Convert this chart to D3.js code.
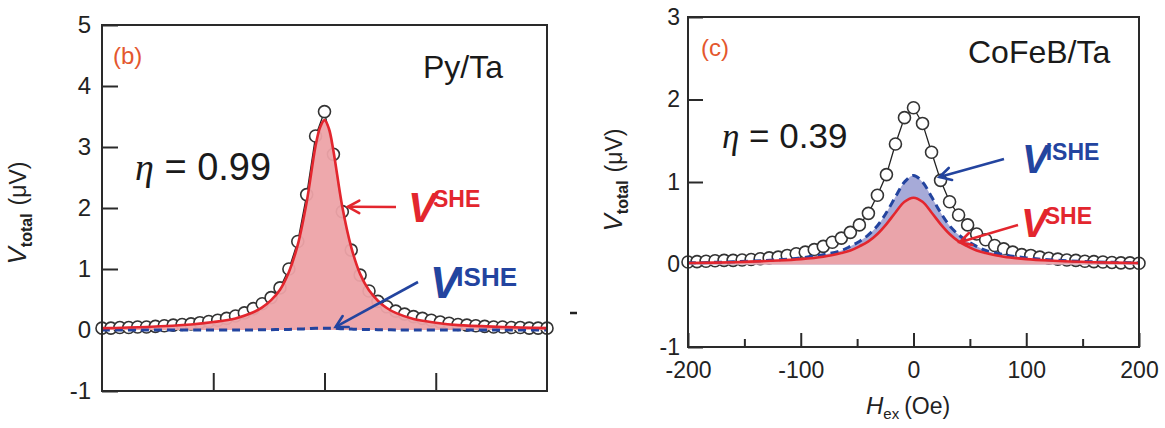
<!DOCTYPE html>
<html>
<head>
<meta charset="utf-8">
<script src="https://cdn.jsdelivr.net/npm/d3@7"></script>
<style>
  body { margin: 0; background: #fff; }
  svg { display: block; }
  text { font-family: "Liberation Sans", Arial, sans-serif; }
</style>
</head>
<body>
<svg id="chart" width="1165" height="428"></svg>
<script>
// Field sweep (Oe) for the measured points
const fieldOe = [-200,-192,-184,-176,-168,-160,-152,-144,-136,-128,-120,-112,-104,-96,-88,-80,-72,-64,-56,-48,-40,-32,-24,-16,-8,
                 0,8,16,24,32,40,48,56,64,72,80,88,96,104,112,120,128,136,144,152,160,168,176,184,192,200];

// Py/Ta: measured total voltage (µV)
const pyTotal = [0.03,0.03,0.04,0.04,0.05,0.05,0.06,0.07,0.08,0.09,0.10,0.12,0.14,0.16,0.19,0.23,0.28,0.35,0.43,0.53,0.69,1.00,1.45,2.22,3.18,
                 3.58,2.88,1.94,1.31,0.90,0.64,0.47,0.38,0.31,0.26,0.22,0.19,0.16,0.13,0.11,0.09,0.08,0.07,0.06,0.05,0.05,0.04,0.04,0.03,0.03,0.03];

// CoFeB/Ta: measured total voltage (µV)
const cfbTotal = [0.03,0.035,0.04,0.045,0.05,0.05,0.055,0.06,0.07,0.08,0.09,0.11,0.13,0.15,0.18,0.22,0.27,0.32,0.39,0.48,0.62,0.84,1.09,1.46,1.78,
                  1.90,1.71,1.36,1.02,0.76,0.60,0.48,0.37,0.30,0.23,0.19,0.15,0.12,0.11,0.09,0.075,0.065,0.055,0.05,0.04,0.035,0.03,0.025,0.02,0.02,0.015];

// Fitted components
const pyFitField = [-200,-160,-120,-100,-80,-64,-56,-48,-40,-32,-24,-16,-8,-4,0,4,8,16,24,32,40,48,56,64,80,100,120,160,200];
const pySheFit   = [0.03,0.05,0.09,0.13,0.19,0.29,0.37,0.49,0.66,0.95,1.40,2.10,3.02,3.32,3.44,3.30,2.94,2.02,1.36,0.92,0.65,0.48,0.36,0.28,0.18,0.12,0.08,0.05,0.03];
const pyIsheFit  = [0.0,0.0,0.0,0.0,0.0,0.0,0.005,0.005,0.01,0.01,0.015,0.02,0.03,0.03,0.03,0.03,0.03,0.02,0.015,0.01,0.01,0.005,0.005,0.0,0.0,0.0,0.0,0.0,0.0];

const cfbFitField = [-200,-160,-120,-100,-80,-64,-56,-48,-40,-32,-24,-16,-8,0,8,16,24,32,40,48,56,64,80,100,120,160,200];
const cfbSheFit   = [0.018,0.028,0.048,0.065,0.095,0.14,0.17,0.22,0.28,0.37,0.49,0.63,0.76,0.81,0.76,0.63,0.49,0.37,0.28,0.22,0.17,0.14,0.095,0.065,0.048,0.028,0.018];
const cfbIsheFit  = [0.02,0.032,0.058,0.08,0.12,0.17,0.22,0.28,0.36,0.47,0.63,0.82,1.00,1.08,1.00,0.82,0.63,0.47,0.36,0.28,0.22,0.17,0.12,0.08,0.058,0.032,0.02];

// Axis ticks
const pyYTicks = [-1,0,1,2,3,4,5];
const pyXTicks = [-100,0,100];
const cfbYTicks = [-1,0,1,2,3];
const cfbXMajor = [-200,-100,0,100,200];
const cfbXMinor = [-150,-50,50,150];

const C = {
  axis: "#2a2a2a",
  red: "#e3262e",
  redFill: "#eda3a8",
  blue: "#23449f",
  blueFill: "#a6aad8",
  tag: "#e4572e"
};

const plainNum = d => String(d);   // ASCII hyphen for negatives
const svg = d3.select("#chart");

function drawPanel(o) {
  const g = svg.append("g");
  const x = d3.scaleLinear().domain([-200, 200]).range(o.xr);
  const y = d3.scaleLinear().domain(o.yd).range(o.yr);

  // y axis (inward ticks)
  const ya = g.append("g").attr("transform", `translate(${o.xr[0]},0)`)
    .call(d3.axisLeft(y).tickValues(o.yTicks).tickSize(-o.yTickLen).tickPadding(o.yPad).tickFormat(plainNum));
  ya.select(".domain").remove();
  ya.selectAll("line").attr("stroke", C.axis).attr("stroke-width", 2);
  ya.selectAll("text").attr("font-size", o.yFont).attr("fill", "#222")
    .attr("font-family", "Liberation Sans, Arial, sans-serif");

  // x axis (inward ticks)
  const xa = g.append("g").attr("transform", `translate(0,${o.yr[0]})`)
    .call(d3.axisBottom(x).tickValues(o.xMajor).tickSize(-o.xTickLen).tickPadding(15)
      .tickFormat(o.xLabels ? plainNum : () => ""));
  xa.select(".domain").remove();
  xa.selectAll("line").attr("stroke", C.axis).attr("stroke-width", 2);
  xa.selectAll("text").attr("font-size", 23).attr("fill", "#222")
    .attr("font-family", "Liberation Sans, Arial, sans-serif");
  if (o.xMinor) {
    const xm = g.append("g").attr("transform", `translate(0,${o.yr[0]})`)
      .call(d3.axisBottom(x).tickValues(o.xMinor).tickSize(-8).tickFormat(() => ""));
    xm.select(".domain").remove();
    xm.selectAll("line").attr("stroke", C.axis).attr("stroke-width", 2);
  }

  // measured points joined by a thin line
  const pts = fieldOe.map((h, i) => [h, o.total[i]]);
  g.append("path").datum(pts)
    .attr("d", d3.line().x(d => x(d[0])).y(d => y(d[1])))
    .attr("fill", "none").attr("stroke", "#222").attr("stroke-width", 1.3);
  g.append("g").selectAll("circle").data(pts).join("circle")
    .attr("cx", d => x(d[0])).attr("cy", d => y(d[1])).attr("r", 6)
    .attr("fill", "#fff").attr("stroke", "#333").attr("stroke-width", 1.6);

  const she = o.fitField.map((h, i) => [h, o.she[i]]);
  const ishe = o.fitField.map((h, i) => [h, o.ishe[i]]);
  const curve = d3.curveCatmullRom.alpha(0.5);
  const area = d3.area().x(d => x(d[0])).y0(y(0)).y1(d => y(d[1])).curve(curve);
  const line = d3.line().x(d => x(d[0])).y(d => y(d[1])).curve(curve);

  if (o.isheFill) g.append("path").datum(ishe).attr("d", area).attr("fill", C.blueFill);
  g.append("path").datum(she).attr("d", area).attr("fill", C.redFill).attr("fill-opacity", 0.95);
  g.append("path").datum(ishe).attr("d", line).attr("fill", "none")
    .attr("stroke", C.blue).attr("stroke-width", 3).attr("stroke-dasharray", "8,5");
  g.append("path").datum(she).attr("d", line).attr("fill", "none")
    .attr("stroke", C.red).attr("stroke-width", 2.6);

  // frame
  g.append("rect").attr("x", o.xr[0]).attr("y", o.yr[1])
    .attr("width", o.xr[1] - o.xr[0]).attr("height", o.yr[0] - o.yr[1])
    .attr("fill", "none").attr("stroke", C.axis).attr("stroke-width", 2);

  return { g, x, y };
}

function arrow(g, x1, y1, x2, y2, color) {
  g.append("line").attr("x1", x1).attr("y1", y1).attr("x2", x2).attr("y2", y2)
    .attr("stroke", color).attr("stroke-width", 2.6);
  const a = Math.atan2(y2 - y1, x2 - x1), L = 13, s = 0.5;
  const p = [[x2 - L * Math.cos(a - s), y2 - L * Math.sin(a - s)], [x2, y2], [x2 - L * Math.cos(a + s), y2 - L * Math.sin(a + s)]];
  g.append("path").attr("d", d3.line()(p)).attr("fill", "none")
    .attr("stroke", color).attr("stroke-width", 2.6).attr("stroke-linecap", "round");
}

function vLabel(g, xp, yp, sup, color, vSize, supSize, supRise) {
  const t = g.append("text").attr("x", xp).attr("y", yp).attr("fill", color)
    .attr("font-family", "Liberation Sans, Arial, sans-serif").attr("font-weight", "bold");
  t.append("tspan").attr("font-size", vSize).attr("font-style", "italic").text("V");
  t.append("tspan").attr("font-size", supSize).attr("dx", -3).attr("dy", -supRise).text(sup);
}

function yTitle(cx, cy) {
  const t = svg.append("text").attr("transform", `translate(${cx},${cy}) rotate(-90)`)
    .attr("text-anchor", "middle").attr("fill", "#222");
  t.append("tspan").attr("font-size", 26).attr("font-style", "italic").text("V");
  t.append("tspan").attr("font-size", 16).attr("font-weight", "bold").attr("dy", 6).text("total");
  t.append("tspan").attr("font-size", 23).attr("dy", -6).attr("dx", 8).text("(μV)");
}

// ---- (b) Py/Ta ----
const L = drawPanel({
  xr: [102, 547], yr: [391, 25], yd: [-1, 5], yTicks: pyYTicks, yTickLen: 16, yPad: 11, yFont: 24,
  xMajor: pyXTicks, xTickLen: 18, xLabels: false,
  total: pyTotal, fitField: pyFitField, she: pySheFit, ishe: pyIsheFit, isheFill: false
});
L.g.append("text").attr("x", 113).attr("y", 64).attr("font-size", 24).attr("fill", C.tag).text("(b)");
L.g.append("text").attr("x", 423).attr("y", 78).attr("font-size", 32).attr("fill", "#1a1a1a").text("Py/Ta");
{
  const t = L.g.append("text").attr("x", 135).attr("y", 180).attr("font-size", 38).attr("fill", "#1a1a1a");
  t.append("tspan").attr("font-family", "Liberation Serif, serif").attr("font-style", "italic").text("η");
  t.append("tspan").text(" = 0.99");
}
arrow(L.g, 396, 207, L.x(21), L.y(2.02), C.red);
vLabel(L.g, 408, 222, "SHE", C.red, 42, 23, 15);
arrow(L.g, 418, 282, L.x(10), L.y(0.05), C.blue);
vLabel(L.g, 430, 298, "ISHE", C.blue, 44, 26, 12);
yTitle(26, 213);
// small mark beside the panel
svg.append("line").attr("x1", 570).attr("x2", 577).attr("y1", 313).attr("y2", 313)
  .attr("stroke", "#222").attr("stroke-width", 2.5);

// ---- (c) CoFeB/Ta ----
const R = drawPanel({
  xr: [688, 1139], yr: [347, 17], yd: [-1, 3], yTicks: cfbYTicks, yTickLen: 15, yPad: 8, yFont: 23,
  xMajor: cfbXMajor, xMinor: cfbXMinor, xTickLen: 14, xLabels: true,
  total: cfbTotal, fitField: cfbFitField, she: cfbSheFit, ishe: cfbIsheFit, isheFill: true
});
R.g.append("text").attr("x", 701).attr("y", 56).attr("font-size", 24).attr("fill", C.tag).text("(c)");
R.g.append("text").attr("x", 968).attr("y", 63).attr("font-size", 32).attr("fill", "#1a1a1a").text("CoFeB/Ta");
{
  const t = R.g.append("text").attr("x", 722).attr("y", 148).attr("font-size", 35).attr("fill", "#1a1a1a");
  t.append("tspan").attr("font-family", "Liberation Serif, serif").attr("font-style", "italic").text("η");
  t.append("tspan").text(" = 0.39");
}
arrow(R.g, 1004, 159, R.x(23), R.y(1.06), C.blue);
vLabel(R.g, 1022, 173, "ISHE", C.blue, 40, 23, 13);
arrow(R.g, 1018, 225, R.x(41), R.y(0.27), C.red);
vLabel(R.g, 1021, 237, "SHE", C.red, 40, 23, 13);
yTitle(622, 180);
{
  const t = svg.append("text").attr("x", 866).attr("y", 414).attr("fill", "#222");
  t.append("tspan").attr("font-size", 24).attr("font-style", "italic").text("H");
  t.append("tspan").attr("font-size", 15).attr("dy", 5).text("ex");
  t.append("tspan").attr("font-size", 23).attr("dy", -5).attr("dx", 5).text("(Oe)");
}
</script>
</body>
</html>
